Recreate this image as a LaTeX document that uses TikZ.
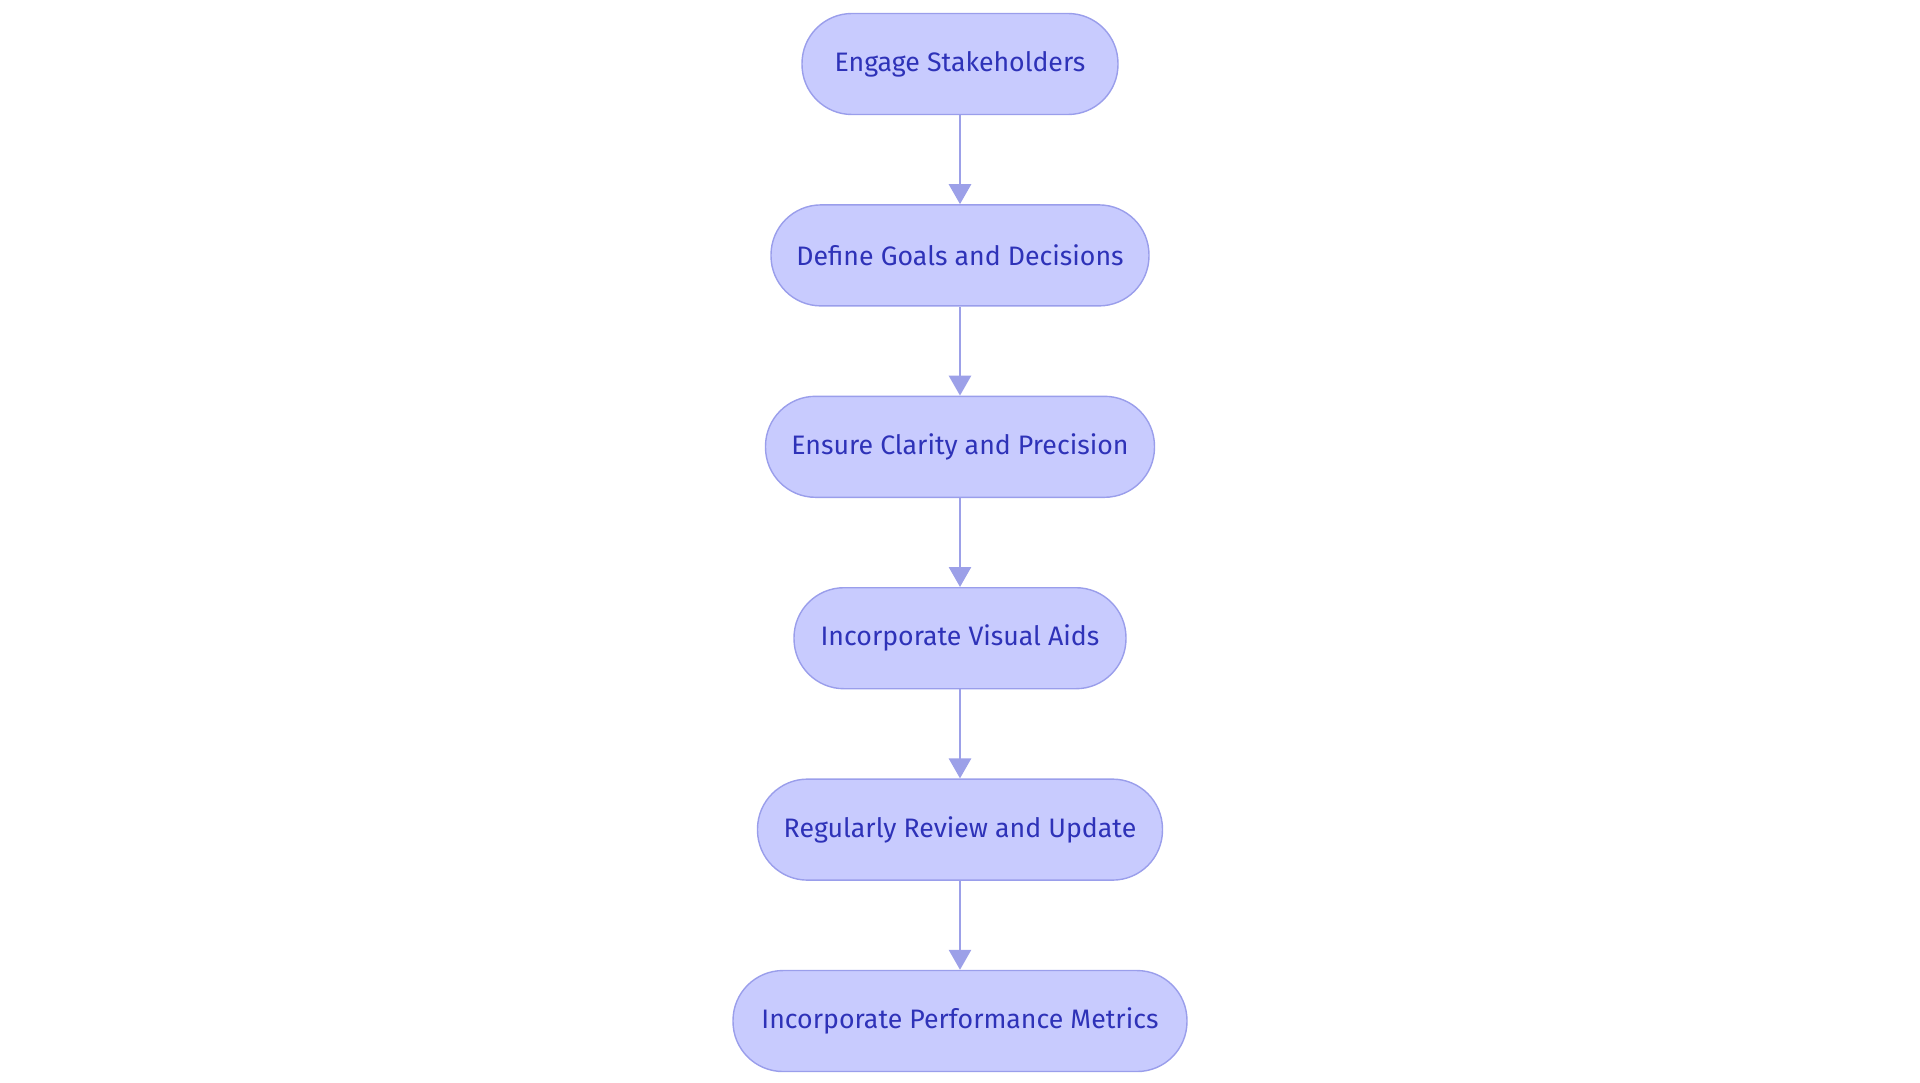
\documentclass[tikz,border=0pt]{standalone}
\usepackage{fontspec}
\setmainfont{Fira Sans}
\usetikzlibrary{positioning,arrows.meta}
\definecolor{boxfill}{HTML}{C8CBFE}
\definecolor{boxline}{HTML}{9A9EEB}
\definecolor{boxtext}{HTML}{2E32B8}
\definecolor{arrowc}{HTML}{9CA0E8}
\tikzset{
  stage/.style={draw=boxline, fill=boxfill, text=boxtext, rounded corners=0.5cm,
    minimum height=1.01cm, font=\fontsize{7.6}{9}\selectfont, inner sep=0pt},
  flow/.style={-{Triangle[length=0.2cm,width=0.22cm]}, draw=arrowc, line width=0.8pt}
}
\begin{document}
\begin{tikzpicture}[node distance=0.89cm]
    \useasboundingbox (-9.6,0.64) rectangle (9.6,-10.19);
    \node[stage, minimum width=3.16cm] (engage) at (0,0) {Engage Stakeholders};
    \node[stage, minimum width=3.78cm, below=of engage] (define) {Define Goals and Decisions};
    \node[stage, minimum width=3.89cm, below=of define] (clarity) {Ensure Clarity and Precision};
    \node[stage, minimum width=3.32cm, below=of clarity] (visual) {Incorporate Visual Aids};
    \node[stage, minimum width=4.05cm, below=of visual] (review) {Regularly Review and Update};
    \node[stage, minimum width=4.54cm, below=of review] (metrics) {Incorporate Performance Metrics};
    \draw[flow] (engage) -- (define);
    \draw[flow] (define) -- (clarity);
    \draw[flow] (clarity) -- (visual);
    \draw[flow] (visual) -- (review);
    \draw[flow] (review) -- (metrics);
\end{tikzpicture}
\end{document}
